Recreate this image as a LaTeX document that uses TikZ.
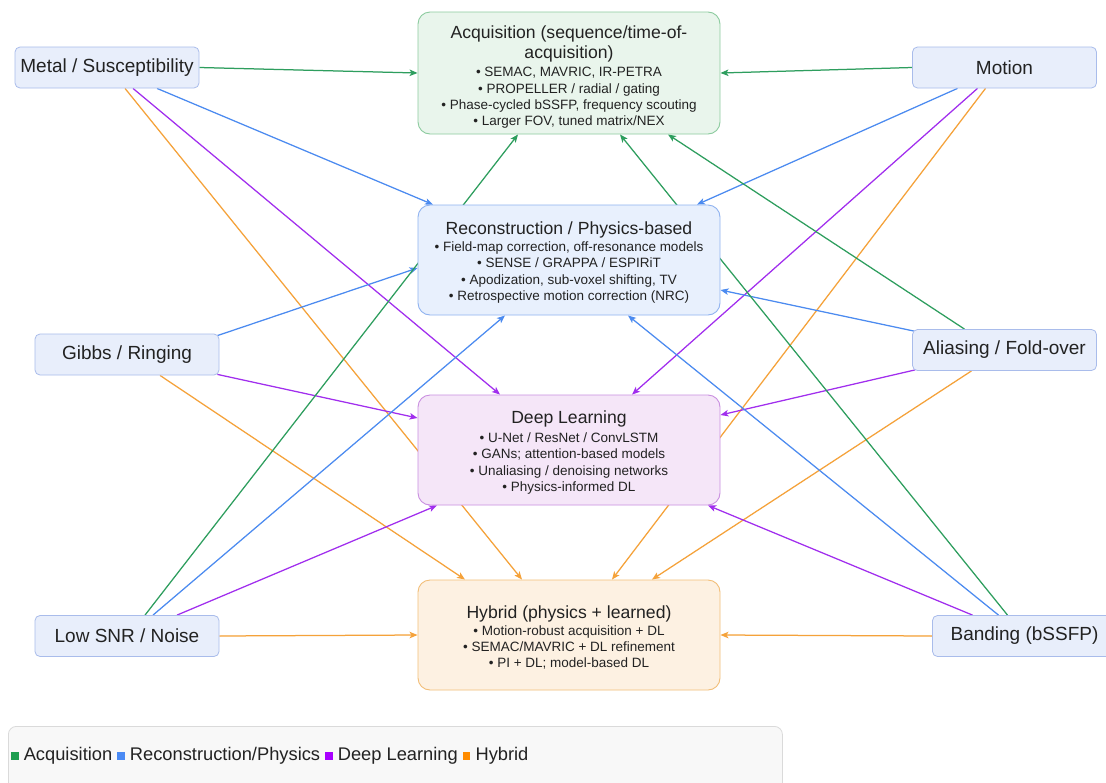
\documentclass[tikz,border=0pt]{standalone}
\usepackage{fontspec}
\setmainfont{Liberation Sans}
\usetikzlibrary{calc,arrows.meta}
\pgfdeclarelayer{bg}
\pgfdeclarelayer{paper}
\pgfsetlayers{paper,bg,main}
\definecolor{txt}{HTML}{222222}
\definecolor{cg}{HTML}{2E9E5E}
\definecolor{cb}{HTML}{4C8BF0}
\definecolor{cp}{HTML}{A12EEE}
\definecolor{co}{HTML}{F5A23A}
\definecolor{acqf}{HTML}{E9F5EC}
\definecolor{acqb}{HTML}{8CCB9F}
\definecolor{recf}{HTML}{E8F0FD}
\definecolor{recb}{HTML}{90B3F0}
\definecolor{dlf}{HTML}{F5E6F8}
\definecolor{dlb}{HTML}{C98FE0}
\definecolor{hybf}{HTML}{FDF1E2}
\definecolor{hybb}{HTML}{F2BE78}
\definecolor{probf}{HTML}{E8EEFB}
\definecolor{probb}{HTML}{A9BCEB}
\definecolor{legf}{HTML}{F8F8F8}
\definecolor{legb}{HTML}{DADADA}
\definecolor{lg}{HTML}{1E9E50}
\definecolor{lb}{HTML}{4A8AF4}
\definecolor{lp}{HTML}{A800FF}
\definecolor{lo}{HTML}{FF8C00}
\newcommand{\ttlf}{\fontsize{17.6}{21}\selectfont}
\newcommand{\bulf}{\fontsize{13.5}{16.3}\selectfont}
\newcommand{\lsq}[1]{\raisebox{0.8pt}{\textcolor{#1}{\rule{7.5pt}{7.5pt}}}}
\begin{document}
\begin{tikzpicture}[x=1pt,y=-1pt,
  prob/.style={draw=probb, fill=probf, rounded corners=5pt, line width=0.8pt,
    minimum width=184pt, minimum height=41pt, inner sep=0pt, text=txt,
    font=\fontsize{19}{22}\selectfont},
  cbox/.style={rounded corners=12pt, line width=0.9pt, minimum width=302pt,
    minimum height=110pt, inner sep=0pt},
  ctext/.style={align=center, text=txt, font=\bulf, inner sep=0pt},
  edge/.style={line width=1.25pt, -{Stealth[length=8pt,width=6.5pt,inset=2pt]}},
  eg/.style={edge, draw=cg, fill=cg},
  eb/.style={edge, draw=cb, fill=cb},
  ep/.style={edge, draw=cp, fill=cp},
  eo/.style={edge, draw=co, fill=co}]
\useasboundingbox (0,0) rectangle (1106,782);
\begin{pgfonlayer}{paper}
\fill[white] (0,0) rectangle (1106,782);
\end{pgfonlayer}

% problem nodes
\node[prob] (metal)  at (107,67.5)   {Metal / Susceptibility};
\node[prob] (motion) at (1004.5,67.5) {Motion};
\node[prob] (gibbs)  at (127,354.5)  {Gibbs / Ringing};
\node[prob] (alias)  at (1004.5,350) {Aliasing / Fold-over};
\node[prob] (snr)    at (127,636)    {Low SNR / Noise};
\node[prob] (band)   at (1024.5,636) {Banding (bSSFP)};

% method boxes
\node[cbox, draw=acqb, fill=acqf, minimum height=122pt] (acq) at (569,73) {};
\node[cbox, draw=recb, fill=recf] (rec) at (569,260) {};
\node[cbox, draw=dlb, fill=dlf] (dl) at (569,450) {};
\node[cbox, draw=hybb, fill=hybf] (hyb) at (569,635) {};

% method texts
\node[ctext, yshift=-4pt] (acqtxt) at (acq)
  {{\ttlf Acquisition (sequence/time-of-}\\[2.4pt]
   {\ttlf acquisition)}\\[2.4pt]
   • SEMAC, MAVRIC, IR-PETRA\\
   • PROPELLER / radial / gating\\
   • Phase-cycled bSSFP, frequency scouting\\
   • Larger FOV, tuned matrix/NEX};
\node[ctext, yshift=-2.5pt] (rectxt) at (rec)
  {{\ttlf Reconstruction / Physics-based}\\[0.5pt]
   • Field-map correction, off-resonance models\\
   • SENSE / GRAPPA / ESPIRiT\\
   • Apodization, sub-voxel shifting, TV\\
   • Retrospective motion correction (NRC)};
\node[ctext, yshift=-2.5pt] (dltxt) at (dl)
  {{\ttlf Deep Learning}\\[2.5pt]
   • U-Net / ResNet / ConvLSTM\\
   • GANs; attention-based models\\
   • Unaliasing / denoising networks\\
   • Physics-informed DL};
\node[ctext, yshift=-2.5pt] (hybtxt) at (hyb)
  {{\ttlf Hybrid (physics + learned)}\\[0.5pt]
   • Motion-robust acquisition + DL\\
   • SEMAC/MAVRIC + DL refinement\\
   • PI + DL; model-based DL};

% legend
\node[draw=legb, fill=legf, rounded corners=8pt, line width=0.8pt,
  minimum width=774pt, minimum height=76pt, inner sep=0pt, anchor=north west]
  (legbox) at (8,726) {};
\node[anchor=west, inner sep=0pt, text=txt, font=\fontsize{18.3}{21}\selectfont]
  (legtext) at (11,756)
  {\lsq{lg} Acquisition \lsq{lb} Reconstruction/Physics \lsq{lp} Deep Learning \lsq{lo} Hybrid};

\begin{pgfonlayer}{bg}
% Metal
\draw[eg] (metal.east) -- (acq.west);
\draw[eb] ($(metal.south)+(50,0)$) -- ($(rec.north)+(-136,0)$);
\draw[ep] ($(metal.south)+(26,0)$) -- ($(dl.north)+(-69,0)$);
\draw[eo] ($(metal.south)+(18,0)$) -- ($(hyb.north)+(-47,0)$);
% Motion
\draw[eg] (motion.west) -- (acq.east);
\draw[eb] ($(motion.south)+(-47,0)$) -- ($(rec.north)+(128,0)$);
\draw[ep] ($(motion.south)+(-27,0)$) -- ($(dl.north)+(63,0)$);
\draw[eo] ($(motion.south)+(-19,0)$) -- ($(hyb.north)+(43,0)$);
% Gibbs
\draw[eb] ($(gibbs.north east)+(-2,2)$) -- ($(rec.west)+(0,8)$);
\draw[ep] ($(gibbs.south east)+(-2,-1)$) -- ($(dl.west)+(0,-32)$);
\draw[eo] ($(gibbs.south)+(33,0)$) -- ($(hyb.north)+(-104,0)$);
% Aliasing
\draw[eb] ($(alias.north west)+(2,2)$) -- ($(rec.east)+(0,30)$);
\draw[eg] ($(alias.north)+(-40,0)$) -- ($(acq.south)+(99,0)$);
\draw[ep] ($(alias.south west)+(3,-1)$) -- ($(dl.east)+(0,-35)$);
\draw[eo] ($(alias.south)+(-33,0)$) -- ($(hyb.north)+(83,0)$);
% Low SNR
\draw[eg] ($(snr.north)+(18,0)$) -- ($(acq.south)+(-51,0)$);
\draw[eb] ($(snr.north)+(26,0)$) -- ($(rec.south)+(-64,0)$);
\draw[ep] ($(snr.north)+(50,0)$) -- ($(dl.south)+(-132,0)$);
\draw[eo] (snr.east) -- (hyb.west);
% Banding
\draw[eg] ($(band.north)+(-17,0)$) -- ($(acq.south)+(51,0)$);
\draw[eb] ($(band.north)+(-26,0)$) -- ($(rec.south)+(59,0)$);
\draw[ep] ($(band.north)+(-52,0)$) -- ($(dl.south)+(139,0)$);
\draw[eo] (band.west) -- (hyb.east);
\end{pgfonlayer}
\end{tikzpicture}
\end{document}
